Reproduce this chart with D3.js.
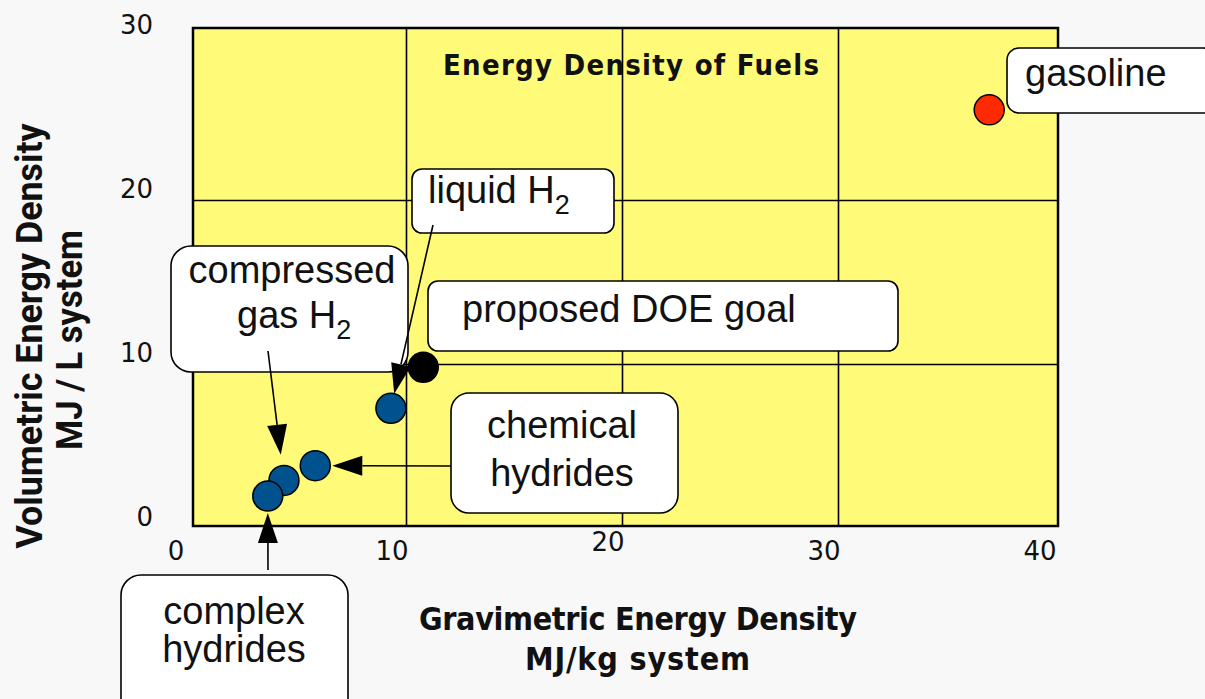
<!DOCTYPE html>
<html>
<head>
<meta charset="utf-8">
<script src="https://cdn.jsdelivr.net/npm/d3@7"></script>
<style>
  html, body { margin: 0; padding: 0; background: #f8f8f8; }
  svg { display: block; }
</style>
</head>
<body>
<svg id="chart" width="1205" height="699"></svg>
<script>
// ---- data ----
const categories  = ["gasoline", "proposed DOE goal", "liquid H2", "chemical hydrides", "compressed gas H2", "complex hydrides"];
const gravimetric = [37.0, 10.8, 9.3, 5.8, 4.35, 3.6];    // MJ/kg system
const volumetric  = [25.5, 9.8, 7.3, 3.8, 2.9, 1.95];     // MJ/L system
const xTicks = [0, 10, 20, 30, 40];
const yTicks = [0, 10, 20, 30];
const xGrid = [10, 20, 30];
const yGrid = [10, 20];

// ---- styles / layout ----
const colorOf = { "gasoline": "#ff2a00", "proposed DOE goal": "#000000" };
const defaultColor = "#00528f";
const plot = { left: 193, right: 1058, top: 28, bottom: 526 };
const r = 15;
const narrowFont = "'Liberation Sans Narrow', 'DejaVu Sans Condensed', 'Liberation Sans', Arial, sans-serif";

const svg = d3.select("#chart");
svg.append("rect").attr("width", 1205).attr("height", 699).attr("fill", "#f8f8f8");

const x = d3.scaleLinear().domain([0, 40]).range([190, 1054]);
const y = d3.scaleLinear().domain([0, 30]).range([528, 36]);

// plot background
svg.append("rect")
  .attr("x", plot.left).attr("y", plot.top)
  .attr("width", plot.right - plot.left).attr("height", plot.bottom - plot.top)
  .attr("fill", "#fffb78");

// chart title (under grid)
svg.append("text")
  .attr("x", 443).attr("y", 75)
  .attr("textLength", 376).attr("lengthAdjust", "spacing")
  .attr("font-family", narrowFont)
  .attr("font-weight", "bold").attr("font-size", 29)
  .attr("fill", "#111")
  .text("Energy Density of Fuels");

// grid lines via axes
const gx = svg.append("g")
  .attr("transform", `translate(0,${plot.bottom})`)
  .call(d3.axisTop(x).tickValues(xGrid).tickSize(plot.bottom - plot.top).tickFormat(""));
const gy = svg.append("g")
  .attr("transform", `translate(${plot.left},0)`)
  .call(d3.axisRight(y).tickValues(yGrid).tickSize(plot.right - plot.left).tickFormat(""));
[gx, gy].forEach(g => {
  g.select(".domain").remove();
  g.selectAll(".tick line").attr("stroke", "#000").attr("stroke-width", 1.6);
});

// border
svg.append("rect")
  .attr("x", plot.left).attr("y", plot.top)
  .attr("width", plot.right - plot.left).attr("height", plot.bottom - plot.top)
  .attr("fill", "none").attr("stroke", "#000").attr("stroke-width", 2.5);

// tick labels
const tickFont = "DejaVu Sans, sans-serif";
svg.append("g").selectAll("text").data(xTicks).join("text")
  .attr("x", d => x(d) - 14)
  .attr("y", d => d === 20 ? 551 : 560)
  .attr("text-anchor", "middle")
  .attr("font-family", tickFont).attr("font-size", 26)
  .attr("fill", "#111")
  .text(d => d);
svg.append("g").selectAll("text").data(yTicks).join("text")
  .attr("x", 153)
  .attr("y", d => y(d) - 2)
  .attr("text-anchor", "end")
  .attr("font-family", tickFont).attr("font-size", 26)
  .attr("fill", "#111")
  .text(d => d);

// axis titles
const xt = svg.append("g").attr("font-family", narrowFont)
  .attr("font-weight", "bold").attr("font-size", 32).attr("text-anchor", "start").attr("fill", "#111");
xt.append("text").attr("x", 419).attr("y", 630)
  .attr("textLength", 438).attr("lengthAdjust", "spacing")
  .text("Gravimetric Energy Density");
xt.append("text").attr("x", 525).attr("y", 670)
  .attr("textLength", 225).attr("lengthAdjust", "spacing")
  .text("MJ/kg system");

const yt = svg.append("g").attr("font-family", "Roboto, 'Liberation Sans', Arial, sans-serif")
  .attr("font-weight", "bold").attr("font-size", 36).attr("text-anchor", "middle").attr("fill", "#111");
yt.append("text").attr("transform", "translate(42,336) rotate(-90)")
  .attr("textLength", 425).attr("lengthAdjust", "spacingAndGlyphs")
  .text("Volumetric Energy Density");
yt.append("text").attr("transform", "translate(82,340) rotate(-90)")
  .attr("textLength", 220).attr("lengthAdjust", "spacingAndGlyphs")
  .text("MJ / L system");

// ---- annotation callouts (layout) ----
const callouts = [
  { box: [1007, 48, 1215, 113], rx: 12, lines: [{ t: "gasoline", x: 1025, y: 86, anchor: "start" }] },
  { box: [412, 169, 614, 233], rx: 10, lines: [{ t: "liquid H", sub: "2", x: 428, y: 203, anchor: "start" }],
    arrow: { from: [433, 225], target: 2, gap: 0 } },
  { box: [171, 246, 408, 372], rx: 20, lines: [
      { t: "compressed", x: 292, y: 283, anchor: "middle" },
      { t: "gas H", sub: "2", x: 237, y: 328, anchor: "start" }],
    arrow: { from: [268, 351], target: 4, gap: 11 } },
  { box: [428, 281, 898, 351], rx: 10, lines: [{ t: "proposed DOE goal", x: 462, y: 322, anchor: "start" }] },
  { box: [451, 393, 678, 513], rx: 18, lines: [
      { t: "chemical", x: 562, y: 438, anchor: "middle" },
      { t: "hydrides", x: 562, y: 486, anchor: "middle" }],
    arrow: { from: [451, 466], target: 3, gap: 2 } },
  { box: [121, 575, 348, 720], rx: 20, lines: [
      { t: "complex", x: 234, y: 624, anchor: "middle" },
      { t: "hydrides", x: 234, y: 662, anchor: "middle" }],
    arrow: { from: [268, 570], target: 5, gap: 2 } }
];

const cg = svg.append("g");
callouts.forEach(c => {
  const [x0, y0, x1, y1] = c.box;
  cg.append("rect").attr("x", x0).attr("y", y0).attr("width", x1 - x0).attr("height", y1 - y0)
    .attr("rx", c.rx).attr("fill", "#fff").attr("stroke", "#000").attr("stroke-width", 1.6);
  c.lines.forEach(l => {
    const t = cg.append("text").attr("x", l.x).attr("y", l.y)
      .attr("text-anchor", l.anchor)
      .attr("font-family", "'Liberation Sans', Arial, sans-serif").attr("font-size", 38).attr("fill", "#111");
    t.append("tspan").text(l.t);
    if (l.sub) t.append("tspan").attr("font-size", 27).attr("dy", 11).text(l.sub);
  });
});

// points
const pts = categories.map((c, i) => ({ c, gx: gravimetric[i], vy: volumetric[i] }));
svg.append("g").selectAll("circle").data(pts).join("circle")
  .attr("cx", d => x(d.gx)).attr("cy", d => y(d.vy)).attr("r", r)
  .attr("fill", d => colorOf[d.c] || defaultColor)
  .attr("stroke", "#000").attr("stroke-width", 1.5);

// arrows
const ag = svg.append("g");
const headLen = 30, headHalf = 10;
callouts.filter(c => c.arrow).forEach(c => {
  const [sx, sy] = c.arrow.from;
  const p = pts[c.arrow.target];
  const cx = x(p.gx), cy = y(p.vy);
  const dx = cx - sx, dy = cy - sy;
  const len = Math.hypot(dx, dy);
  const ux = dx / len, uy = dy / len;
  const tipD = len - r - c.arrow.gap;
  const tx = sx + ux * tipD, ty = sy + uy * tipD;
  const bx = tx - ux * headLen, by = ty - uy * headLen;
  ag.append("line").attr("x1", sx).attr("y1", sy).attr("x2", bx).attr("y2", by)
    .attr("stroke", "#000").attr("stroke-width", 1.6);
  ag.append("path")
    .attr("d", d3.line()([[tx, ty], [bx - uy * headHalf, by + ux * headHalf], [bx + uy * headHalf, by - ux * headHalf]]) + "Z")
    .attr("fill", "#000");
});
</script>
</body>
</html>
